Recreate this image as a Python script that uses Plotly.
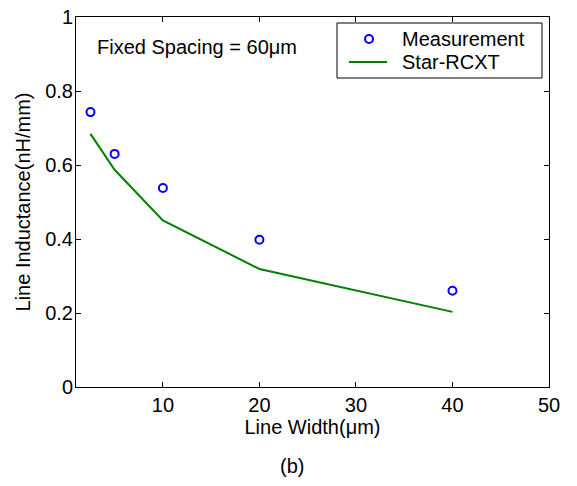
import plotly.graph_objects as go

line_width_um = [2.5, 5, 10, 20, 40]
measurement = [0.743, 0.630, 0.538, 0.398, 0.260]
star_rcxt = [0.684, 0.587, 0.450, 0.319, 0.203]

x_tickvals = [10, 20, 30, 40, 50]
y_tickvals = [0, 0.2, 0.4, 0.6, 0.8, 1.0]
y_ticktext = ["0", "0.2", "0.4", "0.6", "0.8", "1"]

legend_names = ["Measurement", "Star-RCXT"]

FONT = "Liberation Sans, Arial, Helvetica, sans-serif"
FS = 20
BLUE = "#0000ff"
GREEN = "#008000"

# plot area on the page: x 76..549, y 17..387
W, H = 577, 486
PL, PT, PW, PH = 76, 17, 473, 370


def px(x):
    return (x - PL) / PW


def py(y):
    return (PT + PH - y) / PH


fig = go.Figure()
fig.add_trace(go.Scatter(
    x=line_width_um, y=measurement, mode="markers", name=legend_names[0],
    marker=dict(symbol="circle-open", size=8, color=BLUE, line=dict(width=2, color=BLUE)),
    showlegend=False,
))
fig.add_trace(go.Scatter(
    x=line_width_um, y=star_rcxt, mode="lines", name=legend_names[1],
    line=dict(color=GREEN, width=2),
    showlegend=False,
))

axis_common = dict(
    showline=True, linecolor="black", linewidth=1, mirror="ticks",
    ticks="inside", ticklen=5, tickcolor="black", tickwidth=1,
    showgrid=False, zeroline=False, automargin=False,
    ticklabeloverflow="allow",
    tickfont=dict(family=FONT, size=FS, color="black"),
)

fig.update_xaxes(
    range=[1, 50], tickvals=x_tickvals,
    title=dict(text="Line Width(μm)", font=dict(family=FONT, size=FS, color="black"), standoff=1),
    **axis_common,
)
fig.update_yaxes(
    range=[0, 1], tickvals=y_tickvals, ticktext=y_ticktext,
    ticklabelstandoff=-2,
    title=dict(text="Line Inductance(nH/mm)", font=dict(family=FONT, size=FS, color="black"), standoff=9),
    **axis_common,
)

# Legend box drawn manually to match the original layout
shapes = [
    dict(type="rect", xref="paper", yref="paper",
         x0=px(337), x1=px(542), y0=py(78), y1=py(23),
         line=dict(color="black", width=1), fillcolor="white", layer="above"),
    dict(type="line", xref="paper", yref="paper",
         x0=px(349), x1=px(387), y0=py(62), y1=py(62),
         line=dict(color=GREEN, width=2), layer="above"),
    dict(type="circle", xref="paper", yref="paper",
         xsizemode="pixel", ysizemode="pixel",
         xanchor=px(369), yanchor=py(39), x0=-4, x1=4, y0=-4, y1=4,
         line=dict(color=BLUE, width=2), layer="above"),
]
annotations = [
    dict(text=legend_names[0], xref="paper", yref="paper", x=px(400), y=py(39),
         xanchor="left", yanchor="middle", showarrow=False,
         font=dict(family=FONT, size=FS, color="black")),
    dict(text=legend_names[1], xref="paper", yref="paper", x=px(400), y=py(62),
         xanchor="left", yanchor="middle", showarrow=False,
         font=dict(family=FONT, size=FS, color="black")),
    dict(text="Fixed Spacing = 60μm", xref="paper", yref="paper", x=px(95), y=py(47),
         xanchor="left", yanchor="middle", showarrow=False,
         font=dict(family=FONT, size=FS, color="black")),
    dict(text="(b)", xref="paper", yref="paper", x=px(292), y=py(466),
         xanchor="center", yanchor="middle", showarrow=False,
         font=dict(family=FONT, size=FS, color="black")),
]

fig.update_layout(
    width=W, height=H,
    margin=dict(l=PL, r=W - PL - PW, t=PT, b=H - PT - PH, autoexpand=False),
    paper_bgcolor="white", plot_bgcolor="white",
    showlegend=False,
    shapes=shapes,
    annotations=annotations,
    font=dict(family=FONT, size=FS, color="black"),
)

fig.write_html(
    "out.html",
    config={"displayModeBar": False},
    post_script="document.body.style.margin='0';document.body.style.overflow='hidden';",
)
